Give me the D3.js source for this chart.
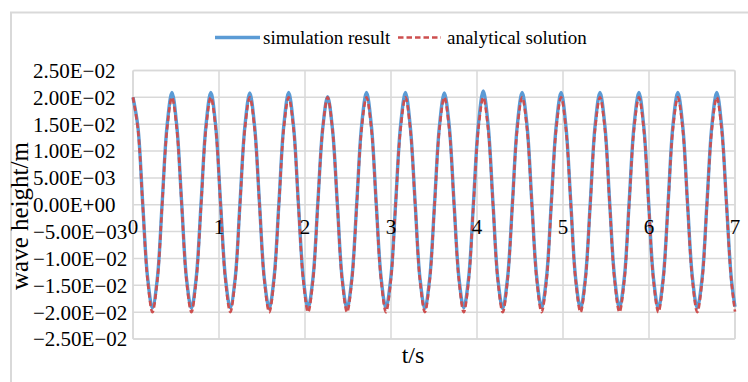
<!DOCTYPE html>
<html><head><meta charset="utf-8">
<script src="https://cdn.jsdelivr.net/npm/d3@7"></script>
<style>body{margin:0;background:#fff;overflow:hidden}
svg text{font-family:"Liberation Serif","Times New Roman",serif;fill:#000}</style></head>
<body>
<script>
// time samples (s)
const times = [
 0.000,0.057,0.113,0.170,0.226,0.283,0.339,0.396,
 0.453,0.509,0.566,0.622,0.679,0.735,0.792,0.848,
 0.905,0.962,1.018,1.075,1.131,1.188,1.244,1.301,
 1.358,1.414,1.471,1.527,1.584,1.640,1.697,1.753,
 1.810,1.867,1.923,1.980,2.036,2.093,2.149,2.206,
 2.263,2.319,2.376,2.432,2.489,2.545,2.602,2.658,
 2.715,2.772,2.828,2.885,2.941,2.998,3.054,3.111,
 3.168,3.224,3.281,3.337,3.394,3.450,3.507,3.563,
 3.620,3.677,3.733,3.790,3.846,3.903,3.959,4.016,
 4.073,4.129,4.186,4.242,4.299,4.355,4.412,4.468,
 4.525,4.582,4.638,4.695,4.751,4.808,4.864,4.921,
 4.978,5.034,5.091,5.147,5.204,5.260,5.317,5.373,
 5.430,5.487,5.543,5.600,5.656,5.713,5.769,5.826,
 5.883,5.939,5.996,6.052,6.109,6.165,6.222,6.278,
 6.335,6.392,6.448,6.505,6.561,6.618,6.674,6.731,
 6.788,6.844,6.901,6.957,7.000
];
// simulation result (m)
const simulation = [
 0.0200,0.0145,0.0002,-0.0136,-0.0192,-0.0137,0.0003,0.0147,
 0.0209,0.0147,0.0003,-0.0137,-0.0193,-0.0136,0.0004,0.0147,
 0.0209,0.0146,0.0003,-0.0136,-0.0192,-0.0137,0.0003,0.0146,
 0.0208,0.0146,0.0002,-0.0137,-0.0193,-0.0136,0.0004,0.0147,
 0.0209,0.0146,0.0003,-0.0136,-0.0192,-0.0136,0.0003,0.0142,
 0.0201,0.0142,0.0002,-0.0137,-0.0193,-0.0137,0.0004,0.0147,
 0.0209,0.0147,0.0003,-0.0136,-0.0192,-0.0136,0.0003,0.0147,
 0.0209,0.0146,0.0003,-0.0137,-0.0193,-0.0137,0.0004,0.0146,
 0.0208,0.0147,0.0003,-0.0136,-0.0192,-0.0136,0.0004,0.0149,
 0.0212,0.0149,0.0003,-0.0137,-0.0193,-0.0137,0.0003,0.0147,
 0.0209,0.0147,0.0003,-0.0136,-0.0192,-0.0136,0.0004,0.0147,
 0.0209,0.0146,0.0003,-0.0137,-0.0193,-0.0137,0.0003,0.0147,
 0.0209,0.0147,0.0003,-0.0136,-0.0192,-0.0136,0.0004,0.0147,
 0.0209,0.0146,0.0003,-0.0137,-0.0193,-0.0137,0.0003,0.0147,
 0.0209,0.0147,0.0003,-0.0136,-0.0192,-0.0136,0.0004,0.0147,
 0.0209,0.0147,0.0003,-0.0137,-0.0190
];
// analytical solution (m)
const analytical = [
 0.0200,0.0141,0.0000,-0.0141,-0.0200,-0.0141,0.0000,0.0141,
 0.0200,0.0141,0.0000,-0.0141,-0.0200,-0.0141,0.0000,0.0141,
 0.0200,0.0141,0.0000,-0.0141,-0.0200,-0.0141,0.0000,0.0141,
 0.0200,0.0141,0.0000,-0.0141,-0.0200,-0.0141,0.0000,0.0141,
 0.0200,0.0141,0.0000,-0.0141,-0.0200,-0.0141,0.0000,0.0141,
 0.0200,0.0141,0.0000,-0.0141,-0.0200,-0.0141,0.0000,0.0141,
 0.0200,0.0141,0.0000,-0.0141,-0.0200,-0.0141,0.0000,0.0141,
 0.0200,0.0141,0.0000,-0.0141,-0.0200,-0.0141,0.0000,0.0141,
 0.0200,0.0141,0.0000,-0.0141,-0.0200,-0.0141,0.0000,0.0141,
 0.0200,0.0141,0.0000,-0.0141,-0.0200,-0.0141,0.0000,0.0141,
 0.0200,0.0141,0.0000,-0.0141,-0.0200,-0.0141,0.0000,0.0141,
 0.0200,0.0141,0.0000,-0.0141,-0.0200,-0.0141,0.0000,0.0141,
 0.0200,0.0141,0.0000,-0.0141,-0.0200,-0.0141,0.0000,0.0141,
 0.0200,0.0141,0.0000,-0.0141,-0.0200,-0.0141,0.0000,0.0141,
 0.0200,0.0141,0.0000,-0.0141,-0.0200,-0.0141,0.0000,0.0141,
 0.0200,0.0141,0.0000,-0.0141,-0.0199
];
const yTicks = [0.025,0.02,0.015,0.01,0.005,0,-0.005,-0.01,-0.015,-0.02,-0.025];
const yTickLabels = ["2.50E\u221202","2.00E\u221202","1.50E\u221202","1.00E\u221202","5.00E\u221203","0.00E+00",
  "\u22125.00E\u221203","\u22121.00E\u221202","\u22121.50E\u221202","\u22122.00E\u221202","\u22122.50E\u221202"];
const xTicks = [0,1,2,3,4,5,6,7];
const seriesNames = ["simulation result","analytical solution"];
const xTitle = "t/s";
const yTitle = "wave height/m";

const W = 748, H = 382;
const svg = d3.select("body").append("svg").attr("width",W).attr("height",H);

// outer chart frame
svg.append("rect").attr("x",11).attr("y",12.5).attr("width",W+20).attr("height",H+20)
  .attr("fill","none").attr("stroke","#d9d9d9").attr("stroke-width",2);

const x = d3.scaleLinear().domain([0,7]).range([133,735]);
const y = d3.scaleLinear().domain([-0.025,0.025]).range([339,70.5]);

const grid = svg.append("g").attr("stroke","#d9d9d9").attr("stroke-width",1.5);
grid.selectAll(".h").data(yTicks).join("line")
  .attr("x1",x(0)).attr("x2",x(7)).attr("y1",d=>y(d)).attr("y2",d=>y(d));
grid.selectAll(".v").data(xTicks).join("line")
  .attr("x1",d=>x(d)).attr("x2",d=>x(d)).attr("y1",y(0.025)).attr("y2",y(-0.025));
svg.append("rect").attr("x",x(0)).attr("y",y(0.025)).attr("width",x(7)-x(0)).attr("height",y(-0.025)-y(0.025))
  .attr("fill","none").attr("stroke","#d9d9d9").attr("stroke-width",1.5).attr("rx",1.5);

// y tick labels
svg.append("g").selectAll("text").data(yTicks).join("text")
  .attr("x",33).attr("y",d=>y(d)).attr("dy","0.35em")
  .style("font-size","21px")
  .text((d,i)=>yTickLabels[i]);

const simData = times.map((t,i)=>[t,simulation[i]]);
const anaData = times.map((t,i)=>[t,analytical[i]]);
const line = d3.line().x(d=>x(d[0])).y(d=>y(d[1])).curve(d3.curveCatmullRom.alpha(0.5));

svg.append("path").datum(simData).attr("d",line).attr("fill","none")
  .attr("stroke","#5b9bd5").attr("stroke-width",3.4).attr("stroke-linejoin","round");
svg.append("path").datum(anaData).attr("d",line).attr("fill","none")
  .attr("stroke","#cd4f4f").attr("stroke-width",2.6).attr("stroke-dasharray","5.5,3");

// x tick labels (axis crosses at 0)
svg.append("g").selectAll("text").data(xTicks).join("text")
  .attr("x",d=>x(d)).attr("y",y(0)+29).attr("text-anchor","middle")
  .style("font-size","21px")
  .text(d=>d);

// axis titles
svg.append("text").attr("x",413).attr("y",363).attr("text-anchor","middle")
  .style("font-size","24px").text(xTitle);
svg.append("text").attr("transform","translate(28,216) rotate(-90)").attr("text-anchor","middle")
  .style("font-size","25px").text(yTitle);

// legend
const lg = svg.append("g");
lg.append("line").attr("x1",215).attr("x2",260).attr("y1",37.5).attr("y2",37.5)
  .attr("stroke","#5b9bd5").attr("stroke-width",3.4);
lg.append("text").attr("x",263).attr("y",44).style("font-size","19px").text(seriesNames[0]);
lg.append("line").attr("x1",398).attr("x2",441).attr("y1",37.5).attr("y2",37.5)
  .attr("stroke","#cd4f4f").attr("stroke-width",2.6).attr("stroke-dasharray","5.5,3");
lg.append("text").attr("x",447).attr("y",44).style("font-size","19px").text(seriesNames[1]);
</script>
</body></html>
